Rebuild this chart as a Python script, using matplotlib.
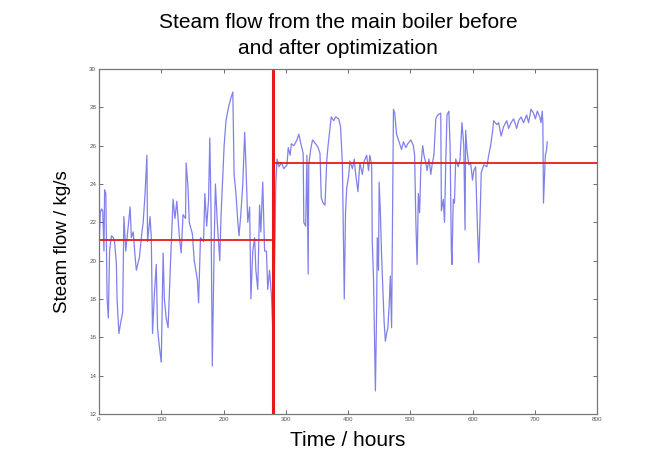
"""Steam flow from the main boiler before and after optimization."""
import matplotlib
matplotlib.use("Agg")
import matplotlib.pyplot as plt

# hours / steam flow (kg/s)
HOURS_BEFORE = [0, 2, 4, 6, 8, 9, 11, 13, 15, 17, 20, 23, 25, 28, 29, 32, 35, 38,
                40, 43, 47, 50, 52, 55, 58, 60, 65, 69, 71, 74, 77, 78, 82, 84, 86,
                89, 92, 94, 97, 100, 103, 105, 108, 111, 115, 119, 122, 125, 129,
                132, 135, 139, 140, 143, 145, 150, 153, 158, 160, 163, 168, 170,
                173, 176, 178, 180, 182, 185, 187, 190, 194, 196, 198, 201, 204,
                208, 212, 215, 217, 220, 223, 225, 228, 231, 234, 236, 239, 242,
                244, 247, 250, 252, 255, 258, 260, 263, 266, 269, 271, 274, 277,
                279, 280]
FLOW_BEFORE = [20.5, 22.5, 22.7, 22.6, 20.5, 23.7, 23.5, 18.0, 17.0, 20.5, 21.3,
               21.2, 21.0, 19.8, 18.0, 16.2, 16.8, 17.3, 22.3, 20.5, 21.8, 22.8,
               21.2, 21.5, 20.2, 19.5, 20.2, 21.5, 22.0, 23.5, 25.5, 21.0, 22.3,
               21.2, 16.2, 18.3, 19.8, 16.5, 15.5, 14.7, 20.4, 18.0, 17.0, 16.5,
               20.0, 23.2, 22.2, 23.1, 21.3, 20.4, 22.4, 22.2, 25.1, 23.8, 22.0,
               21.4, 20.0, 19.0, 17.8, 21.2, 21.0, 23.5, 21.8, 23.2, 26.4, 22.5,
               14.5, 20.8, 24.0, 22.0, 20.0, 22.3, 23.8, 26.0, 27.3, 28.0, 28.5,
               28.8, 24.5, 23.5, 22.0, 21.3, 22.5, 24.0, 26.7, 25.0, 22.0, 22.8,
               18.0, 20.5, 21.2, 19.5, 18.5, 22.9, 21.5, 24.1, 20.5, 20.5, 18.5,
               19.5, 18.2, 16.5, 15.4]

HOURS_AFTER = [284, 286, 289, 293, 297, 302, 304, 307, 309, 313, 318, 321, 325,
               328, 329, 332, 334, 336, 337, 340, 343, 348, 352, 355, 357, 360,
               363, 366, 368, 371, 373, 377, 380, 385, 388, 391, 394, 396, 398,
               401, 403, 407, 410, 412, 416, 419, 423, 426, 430, 433, 435, 438,
               439, 441, 443, 444, 446, 447, 449, 450, 452, 454, 456, 458, 460,
               462, 464, 466, 468, 470, 473, 475, 478, 482, 486, 489, 493, 496,
               501, 505, 507, 509, 511, 513, 515, 517, 520, 522, 525, 527, 530,
               533, 535, 538, 541, 544, 549, 550, 553, 555, 557, 559, 562, 564,
               566, 567, 569, 571, 573, 577, 580, 583, 586, 588, 589, 591, 594,
               597, 600, 602, 605, 608, 610, 612, 614, 618, 623, 626, 629, 632,
               634, 639, 642, 646, 650, 655, 658, 662, 666, 671, 674, 678, 682,
               687, 690, 694, 698, 701, 704, 708, 710, 712, 713, 714, 717, 719, 720]
FLOW_AFTER = [24.0, 25.3, 24.9, 25.1, 24.8, 25.0, 25.9, 25.5, 26.1, 26.0, 26.3,
              26.6, 26.0, 25.6, 22.0, 21.8, 25.5, 19.3, 25.0, 25.8, 26.3, 26.1,
              25.9, 25.6, 23.3, 23.0, 22.9, 25.3, 26.0, 26.9, 27.5, 27.3, 27.5,
              27.4, 27.0, 25.0, 18.0, 22.5, 23.8, 24.4, 25.2, 24.8, 25.3, 24.6,
              23.6, 25.1, 24.5, 25.2, 25.5, 24.7, 25.5, 25.0, 21.0, 19.0, 15.0,
              13.2, 17.5, 21.2, 19.5, 24.1, 22.5, 20.2, 18.5, 16.8, 15.8, 16.2,
              16.5, 17.6, 19.2, 16.5, 27.9, 27.7, 26.6, 26.2, 25.8, 26.2, 25.9,
              26.1, 26.3, 26.0, 25.5, 22.0, 19.8, 23.5, 22.5, 24.9, 26.0, 25.5,
              25.1, 24.7, 25.3, 24.5, 25.0, 25.5, 27.4, 27.6, 27.7, 22.6, 23.2,
              22.0, 25.1, 27.6, 27.8, 26.0, 20.5, 19.8, 23.2, 23.0, 25.3, 24.9,
              25.3, 27.2, 26.0, 21.6, 26.8, 25.8, 25.0, 25.1, 24.2, 24.7, 24.9,
              21.6, 19.9, 22.1, 24.6, 25.0, 24.9, 25.5, 26.0, 26.7, 27.3, 27.1,
              27.2, 26.5, 27.0, 27.3, 26.9, 27.2, 27.4, 26.9, 27.3, 27.5, 27.2,
              27.6, 27.2, 27.9, 27.7, 27.4, 27.8, 27.5, 27.2, 27.8, 27.2, 23.0,
              25.5, 25.8, 26.2]

SWITCH_HOUR = 280
MEAN_BEFORE = 21.1
MEAN_AFTER = 25.1

plt.rcParams["font.family"] = ["Liberation Sans", "DejaVu Sans"]


def main() -> None:
    fig = plt.figure(figsize=(6.5, 4.65), dpi=100)
    ax = fig.add_axes([0.1523, 0.1097, 0.7662, 0.7419])

    hours = HOURS_BEFORE + HOURS_AFTER
    flow = FLOW_BEFORE + FLOW_AFTER
    ax.plot(hours, flow, color="#3c3ce0", lw=0.9, alpha=0.65)

    ax.plot([0, SWITCH_HOUR], [MEAN_BEFORE, MEAN_BEFORE], color="#e8181b", lw=1.3)
    ax.plot([SWITCH_HOUR, 800], [MEAN_AFTER, MEAN_AFTER], color="#e8181b", lw=1.3)
    ax.axvline(SWITCH_HOUR, color="#e8181b", lw=2.2)

    ax.set_xlim(0, 800)
    ax.set_ylim(12, 30)
    ax.set_xticks(range(0, 801, 100))
    ax.set_yticks(range(12, 31, 2))
    ax.tick_params(direction="in", length=3, width=0.6, labelsize=4.5,
                   colors="#555555", top=True, right=True, pad=2)
    for spine in ax.spines.values():
        spine.set_color("#777777")
        spine.set_linewidth(0.9)

    ax.set_title("Steam flow from the main boiler before\nand after optimization",
                 fontsize=15, pad=11, linespacing=1.45, x=0.48)
    ax.set_xlabel("Time / hours", fontsize=15, labelpad=7)
    ax.set_ylabel("Steam flow / kg/s", fontsize=13.5, labelpad=13)

    fig.savefig("out.png", dpi=100)


if __name__ == "__main__":
    main()
